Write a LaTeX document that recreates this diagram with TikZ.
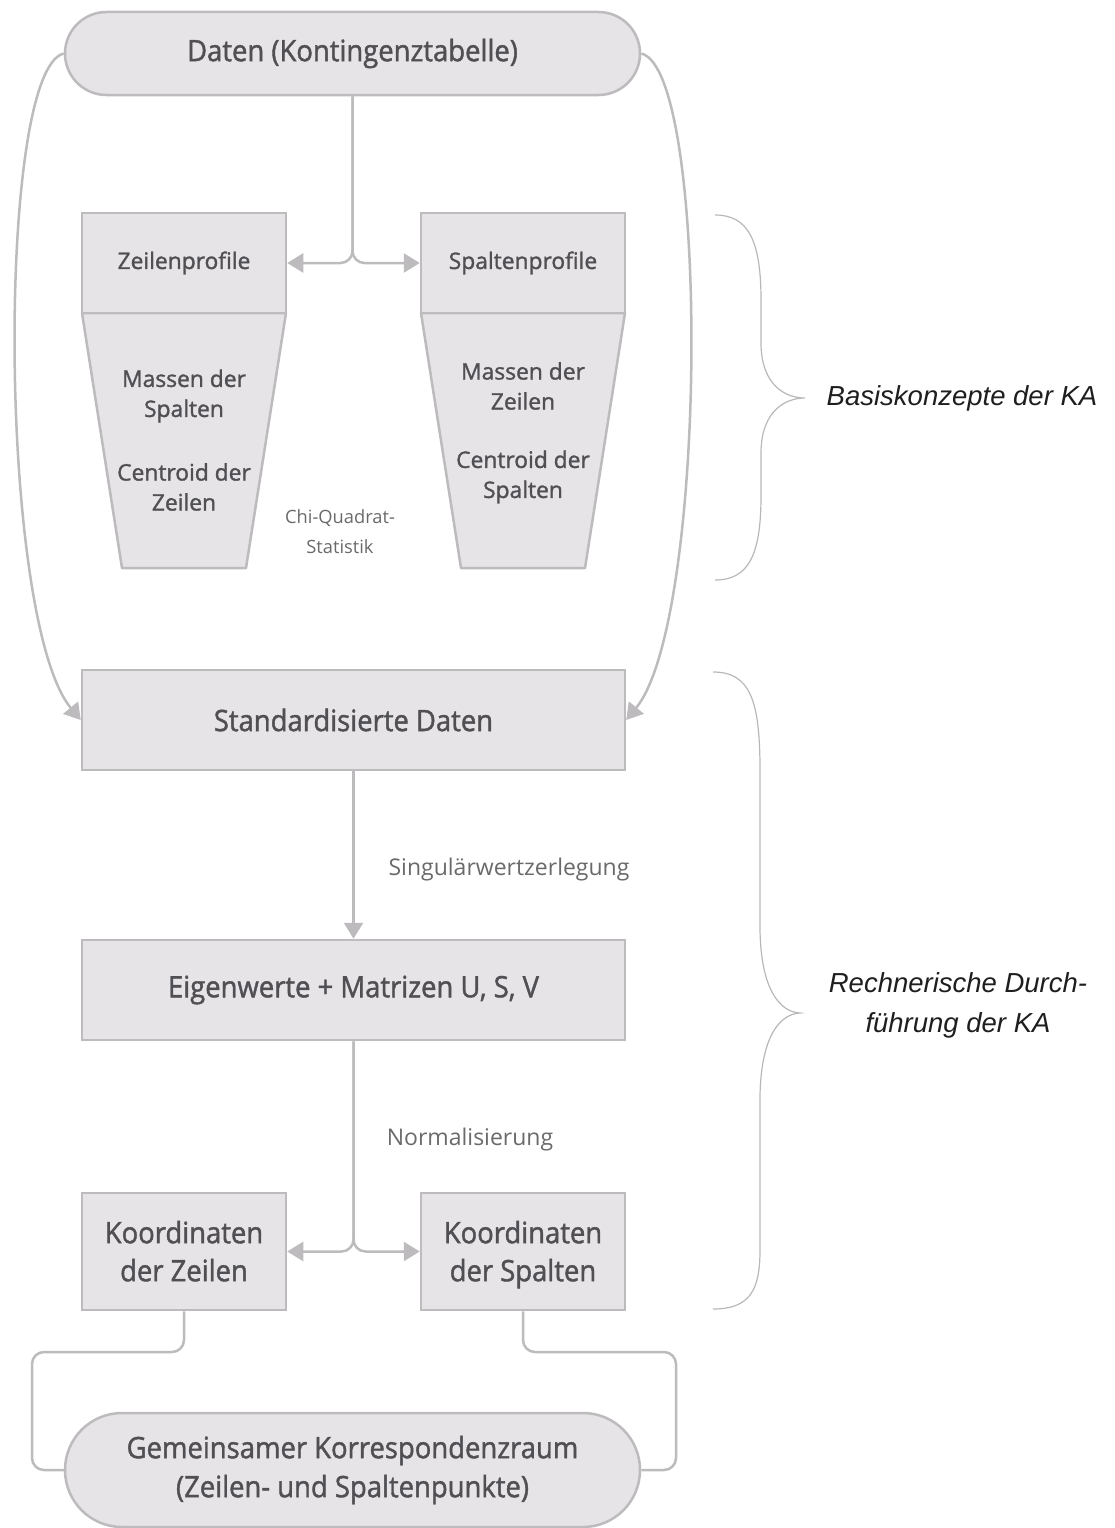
\documentclass[tikz,border=0pt]{standalone}
\usepackage{fontspec}
\setmainfont{Open Sans}
\newfontfamily\bigfont{Open Sans}[FakeBold=1.4, FakeStretch=0.93]
\newfontfamily\smallfont{Open Sans}[FakeBold=1.4]
\newfontfamily\labfont{Liberation Sans}
\usetikzlibrary{arrows.meta,shapes.misc}
\definecolor{boxfill}{HTML}{E7E4E7}
\definecolor{boxline}{HTML}{BDBBBD}
\definecolor{txt}{HTML}{505054}
\definecolor{ltxt}{HTML}{6A6A6A}
\definecolor{brc}{HTML}{B8B8B8}
\definecolor{sidec}{HTML}{1E1E1E}
\newcommand{\fz}[2]{\fontsize{#1}{#2}\selectfont}
\begin{document}
\begin{tikzpicture}[x=1pt,y=-1pt,
  box/.style={draw=boxline, fill=boxfill, line width=2.5pt, text=txt, inner sep=0pt, align=center},
  stad/.style={box, rounded rectangle},
  shp/.style={draw=boxline, fill=boxfill, line width=2.5pt, line join=round},
  intext/.style={text=txt, align=center, inner sep=0pt},
  bigtxt/.style={font=\bigfont\fz{29.5}{30}},
  smalltxt/.style={font=\smallfont\fz{22.8}{30}},
  lbl/.style={text=ltxt, align=center, inner sep=0pt, font=\fz{23}{30}},
  conn/.style={draw=boxline, line width=2.5pt},
  arr/.style={conn, -{Triangle[length=16pt,width=19pt]}},
  brace/.style={draw=brc, line width=1.2pt},
  side/.style={font=\labfont\itshape\fz{27.5}{40}, text=sidec, align=center, inner sep=0pt}]
\useasboundingbox (0,0) rectangle (1114,1528);

% nodes
\node[stad, minimum width=575, minimum height=83, bigtxt] (daten) at (352.5,53.5) {Daten (Kontingenztabelle)};

\draw[shp] (82,313) -- (286,313) -- (246,568) -- (122,568) -- cycle;
\draw[shp] (421,313) -- (625,313) -- (585,568) -- (461,568) -- cycle;
\node[box, minimum width=204, minimum height=100, smalltxt] (zeilen) at (184,263) {Zeilenprofile};
\node[box, minimum width=204, minimum height=100, smalltxt] (spalten) at (523,263) {Spaltenprofile};

\node[intext, smalltxt] (mz) at (184,396) {Massen der\\Spalten};
\node[intext, smalltxt] (cz) at (184,487) {Centroid der\\Zeilen};
\node[intext, smalltxt] (ms) at (523,386) {Massen der\\Zeilen};
\node[intext, smalltxt] (cs) at (523,477) {Centroid der\\Spalten};
\node[lbl, font=\fz{18.3}{30}] (chi) at (340,532) {Chi-Quadrat-\\Statistik};

\node[box, minimum width=543, minimum height=100, bigtxt] (std) at (353.5,720) {Standardisierte Daten};
\node[box, minimum width=543, minimum height=100, bigtxt] (eig) at (353.5,990) {Eigenwerte + Matrizen U, S, V};
\node[box, minimum width=204, minimum height=117, font=\bigfont\fz{29.5}{38}] (kz) at (184,1251.5) {\rule{0pt}{28.5pt}Koordinaten\\der Zeilen\vphantom{p}};
\node[box, minimum width=204, minimum height=117, font=\bigfont\fz{29.5}{38}] (ks) at (523,1251.5) {\rule{0pt}{28.5pt}Koordinaten\\der Spalten};
\node[stad, minimum width=575, minimum height=114, font=\bigfont\fz{29.5}{39}] (gem) at (352.5,1470) {Gemeinsamer Korrespondenzraum\\(Zeilen- und Spaltenpunkte)};

\node[lbl] (sing) at (509,870) {Singulärwertzerlegung};
\node[lbl] (norm) at (470,1140) {Normalisierung};

% connectors
\draw[arr, rounded corners=12pt] (daten.south) |- (zeilen.east);
\draw[arr, rounded corners=12pt] (daten.south) |- (spalten.west);
\draw[arr] (daten.west) .. controls (-4,70) and (-2,620) .. (std.west);
\draw[arr] (daten.east) .. controls (710,70) and (708,620) .. (std.east);
\draw[arr] (std.south) -- (eig.north);
\draw[arr, rounded corners=12pt] (eig.south) |- (kz.east);
\draw[arr, rounded corners=12pt] (eig.south) |- (ks.west);
\coordinate (lw) at (32,1352);
\coordinate (rw) at (676,1352);
\draw[conn, rounded corners=12pt] (kz.south) |- (lw) |- (gem.west);
\draw[conn, rounded corners=12pt] (ks.south) |- (rw) |- (gem.east);

% braces
\draw[brace] (715,215) .. controls (748,215) and (761,240) .. (761,300)
  -- (761,345) .. controls (762,385) and (785,398) .. (805,398)
  .. controls (785,398) and (762,411) .. (761,451)
  -- (761,496) .. controls (761,556) and (748,580) .. (715,580);
\node[side] (basis) at (962,398) {Basiskonzepte der KA};

\draw[brace] (713,672) .. controls (750,672) and (760,700) .. (760,770)
  -- (760,930) .. controls (761,990) and (780,1012) .. (800,1013)
  .. controls (780,1014) and (761,1036) .. (760,1096)
  -- (760,1250) .. controls (760,1290) and (750,1309) .. (713,1309);
\node[side] (rechn) at (958,1005) {Rechnerische Durch-\\führung der KA};
\end{tikzpicture}
\end{document}
